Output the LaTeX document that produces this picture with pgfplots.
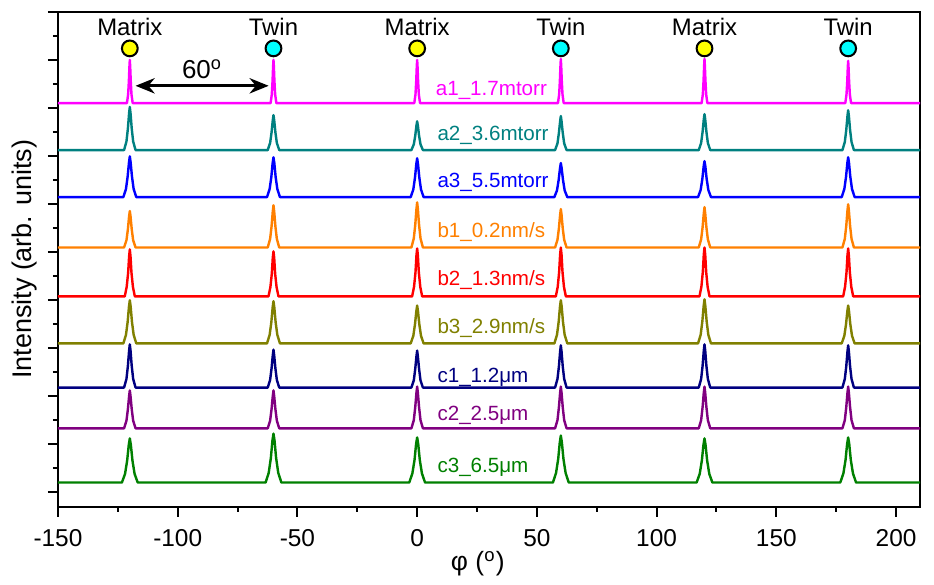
\documentclass[border=0pt]{standalone}
\usepackage{fontspec}
\setmainfont{Liberation Sans}
\usepackage{pgfplots}
\pgfplotsset{compat=1.18}
\usetikzlibrary{arrows.meta}

\definecolor{cA1}{RGB}{255,0,255}
\definecolor{cA2}{RGB}{0,128,128}
\definecolor{cA3}{RGB}{0,0,255}
\definecolor{cB1}{RGB}{255,128,0}
\definecolor{cB2}{RGB}{255,0,0}
\definecolor{cB3}{RGB}{128,128,0}
\definecolor{cC1}{RGB}{0,0,128}
\definecolor{cC2}{RGB}{128,0,128}
\definecolor{cC3}{RGB}{0,128,0}
\definecolor{matrixc}{RGB}{255,255,0}
\definecolor{twinc}{RGB}{0,255,255}

\pgfplotsset{curve/.style={line width=0.95pt, line join=round, mark=none}}

\begin{document}
\begin{tikzpicture}
\begin{axis}[
    scale only axis,
    width=339pt, height=194.5pt,
    xmin=-150, xmax=210, ymin=-0.31, ymax=10,
    xtick={-150,-100,...,200}, minor x tick num=1,
    ytick={0,1,...,10}, minor y tick num=1, yticklabels={},
    tick pos=left, tick align=outside,
    major tick length=4pt, minor tick length=2pt,
    every tick/.style={black, line width=0.8pt},
    axis line style={line width=0.8pt},
    ticklabel style={font=\fontsize{9.6}{11}\selectfont},
    xticklabel style={yshift=-1.5pt},
    /pgf/number format/assume math mode=true,
    xlabel={φ (\textsuperscript{o})},
    ylabel={Intensity (arb. units)},
    xlabel style={font=\fontsize{10.4}{12}\selectfont, at={(axis description cs:0.487,-0.115)}, anchor=center},
    ylabel style={font=\fontsize{10.6}{12}\selectfont, at={(axis description cs:-0.0385,0.5)}, anchor=center, rotate=0},
    clip=false,
]
% a1_1.7mtorr
\addplot[curve, cA1] coordinates {
(-150,8.10) (-121.2,8.10) (-120.7,8.28) (-120.4,8.55) (-120.15,8.87) (-120,9.00) (-119.85,8.87) (-119.6,8.55) (-119.3,8.28) (-118.8,8.10)
(-61.2,8.10) (-60.7,8.28) (-60.4,8.55) (-60.15,8.87) (-60,9.00) (-59.85,8.87) (-59.6,8.55) (-59.3,8.28) (-58.8,8.10)
(-1.2,8.10) (-0.7,8.28) (-0.4,8.55) (-0.15,8.87) (0,9.00) (0.15,8.87) (0.4,8.55) (0.7,8.28) (1.2,8.10)
(58.8,8.10) (59.3,8.28) (59.6,8.56) (59.85,8.88) (60,9.02) (60.15,8.88) (60.4,8.56) (60.7,8.28) (61.2,8.10)
(118.8,8.10) (119.3,8.28) (119.6,8.56) (119.85,8.88) (120,9.02) (120.15,8.88) (120.4,8.56) (120.7,8.28) (121.2,8.10)
(178.8,8.10) (179.3,8.28) (179.6,8.54) (179.85,8.85) (180,8.98) (180.15,8.85) (180.4,8.54) (180.7,8.28) (181.2,8.10) (210,8.10)
};
% a2_3.6mtorr
\addplot[curve, cA2] coordinates {
(-150,7.12) (-122.4,7.12) (-121.4,7.30) (-120.8,7.57) (-120.3,7.89) (-120,8.02) (-119.7,7.89) (-119.2,7.57) (-118.6,7.30) (-117.6,7.12)
(-62.4,7.12) (-61.4,7.27) (-60.8,7.49) (-60.3,7.74) (-60,7.85) (-59.7,7.74) (-59.2,7.49) (-58.6,7.27) (-57.6,7.12)
(-2.4,7.12) (-1.4,7.24) (-0.8,7.42) (-0.3,7.63) (0,7.72) (0.3,7.63) (0.8,7.42) (1.4,7.24) (2.4,7.12)
(57.6,7.12) (58.6,7.26) (59.2,7.48) (59.7,7.72) (60,7.83) (60.3,7.72) (60.8,7.48) (61.4,7.26) (62.4,7.12)
(117.6,7.12) (118.6,7.27) (119.2,7.50) (119.7,7.76) (120,7.87) (120.3,7.76) (120.8,7.50) (121.4,7.27) (122.4,7.12)
(177.6,7.12) (178.6,7.29) (179.2,7.54) (179.7,7.83) (180,7.95) (180.3,7.83) (180.8,7.54) (181.4,7.29) (182.4,7.12) (210,7.12)
};
% a3_5.5mtorr
\addplot[curve, cA3] coordinates {
(-150,6.14) (-122.7,6.14) (-121.6,6.31) (-120.9,6.57) (-120.35,6.86) (-120,6.99) (-119.65,6.86) (-119.1,6.57) (-118.4,6.31) (-117.3,6.14)
(-62.7,6.14) (-61.6,6.31) (-60.9,6.56) (-60.35,6.85) (-60,6.97) (-59.65,6.85) (-59.1,6.56) (-58.4,6.31) (-57.3,6.14)
(-2.7,6.14) (-1.6,6.30) (-0.9,6.55) (-0.35,6.83) (0,6.95) (0.35,6.83) (0.9,6.55) (1.6,6.30) (2.7,6.14)
(57.3,6.14) (58.4,6.28) (59.1,6.50) (59.65,6.74) (60,6.85) (60.35,6.74) (60.9,6.50) (61.6,6.28) (62.7,6.14)
(117.3,6.14) (118.4,6.29) (119.1,6.52) (119.65,6.78) (120,6.89) (120.35,6.78) (120.9,6.52) (121.6,6.29) (122.7,6.14)
(177.3,6.14) (178.4,6.31) (179.1,6.56) (179.65,6.85) (180,6.97) (180.35,6.85) (180.9,6.56) (181.6,6.31) (182.7,6.14) (210,6.14)
};
% b1_0.2nm/s
\addplot[curve, cB1] coordinates {
(-150,5.09) (-122.4,5.09) (-121.4,5.24) (-120.8,5.47) (-120.3,5.74) (-120,5.85) (-119.7,5.74) (-119.2,5.47) (-118.6,5.24) (-117.6,5.09)
(-62.4,5.09) (-61.4,5.27) (-60.8,5.53) (-60.3,5.84) (-60,5.97) (-59.7,5.84) (-59.2,5.53) (-58.6,5.27) (-57.6,5.09)
(-2.4,5.09) (-1.4,5.28) (-0.8,5.56) (-0.3,5.89) (0,6.03) (0.3,5.89) (0.8,5.56) (1.4,5.28) (2.4,5.09)
(57.6,5.09) (58.6,5.25) (59.2,5.49) (59.7,5.77) (60,5.89) (60.3,5.77) (60.8,5.49) (61.4,5.25) (62.4,5.09)
(117.6,5.09) (118.6,5.26) (119.2,5.51) (119.7,5.80) (120,5.93) (120.3,5.80) (120.8,5.51) (121.4,5.26) (122.4,5.09)
(177.6,5.09) (178.6,5.27) (179.2,5.54) (179.7,5.86) (180,5.99) (180.3,5.86) (180.8,5.54) (181.4,5.27) (182.4,5.09) (210,5.09)
};
% b2_1.3nm/s
\addplot[curve, cB2] coordinates {
(-150,4.07) (-122.1,4.07) (-121.3,4.27) (-120.7,4.56) (-120.3,4.90) (-120,5.05) (-119.7,4.90) (-119.3,4.56) (-118.7,4.27) (-117.9,4.07)
(-62.1,4.07) (-61.3,4.26) (-60.7,4.54) (-60.3,4.87) (-60,5.01) (-59.7,4.87) (-59.3,4.54) (-58.7,4.26) (-57.9,4.07)
(-2.1,4.07) (-1.3,4.27) (-0.7,4.57) (-0.3,4.92) (0,5.07) (0.3,4.92) (0.7,4.57) (1.3,4.27) (2.1,4.07)
(57.9,4.07) (58.7,4.27) (59.3,4.58) (59.7,4.94) (60,5.09) (60.3,4.94) (60.7,4.58) (61.3,4.27) (62.1,4.07)
(117.9,4.07) (118.7,4.27) (119.3,4.58) (119.7,4.94) (120,5.09) (120.3,4.94) (120.7,4.58) (121.3,4.27) (122.1,4.07)
(177.9,4.07) (178.7,4.27) (179.3,4.57) (179.7,4.92) (180,5.07) (180.3,4.92) (180.7,4.57) (181.3,4.27) (182.1,4.07) (210,4.07)
};
% b3_2.9nm/s
\addplot[curve, cB3] coordinates {
(-150,3.09) (-122.7,3.09) (-121.6,3.27) (-120.9,3.54) (-120.35,3.86) (-120,3.99) (-119.65,3.86) (-119.1,3.54) (-118.4,3.27) (-117.3,3.09)
(-62.7,3.09) (-61.6,3.27) (-60.9,3.53) (-60.35,3.84) (-60,3.97) (-59.65,3.84) (-59.1,3.53) (-58.4,3.27) (-57.3,3.09)
(-2.7,3.09) (-1.6,3.25) (-0.9,3.49) (-0.35,3.76) (0,3.88) (0.35,3.76) (0.9,3.49) (1.6,3.25) (2.7,3.09)
(57.3,3.09) (58.4,3.27) (59.1,3.54) (59.65,3.86) (60,3.99) (60.35,3.86) (60.9,3.54) (61.6,3.27) (62.7,3.09)
(117.3,3.09) (118.4,3.27) (119.1,3.55) (119.65,3.87) (120,4.01) (120.35,3.87) (120.9,3.55) (121.6,3.27) (122.7,3.09)
(177.3,3.09) (178.4,3.25) (179.1,3.49) (179.65,3.76) (180,3.88) (180.35,3.76) (180.9,3.49) (181.6,3.25) (182.7,3.09) (210,3.09)
};
% c1_1.2um
\addplot[curve, cC1] coordinates {
(-150,2.17) (-122.4,2.17) (-121.4,2.35) (-120.8,2.62) (-120.3,2.94) (-120,3.07) (-119.7,2.94) (-119.2,2.62) (-118.6,2.35) (-117.6,2.17)
(-62.4,2.17) (-61.4,2.33) (-60.8,2.57) (-60.3,2.84) (-60,2.96) (-59.7,2.84) (-59.2,2.57) (-58.6,2.33) (-57.6,2.17)
(-2.4,2.17) (-1.4,2.32) (-0.8,2.56) (-0.3,2.82) (0,2.94) (0.3,2.82) (0.8,2.56) (1.4,2.32) (2.4,2.17)
(57.6,2.17) (58.6,2.35) (59.2,2.61) (59.7,2.92) (60,3.05) (60.3,2.92) (60.8,2.61) (61.4,2.35) (62.4,2.17)
(117.6,2.17) (118.6,2.35) (119.2,2.62) (119.7,2.94) (120,3.07) (120.3,2.94) (120.8,2.62) (121.4,2.35) (122.4,2.17)
(177.6,2.17) (178.6,2.35) (179.2,2.61) (179.7,2.92) (180,3.05) (180.3,2.92) (180.8,2.61) (181.4,2.35) (182.4,2.17) (210,2.17)
};
% c2_2.5um
\addplot[curve, cC2] coordinates {
(-150,1.32) (-122.4,1.32) (-121.4,1.48) (-120.8,1.72) (-120.3,1.99) (-120,2.11) (-119.7,1.99) (-119.2,1.72) (-118.6,1.48) (-117.6,1.32)
(-62.4,1.32) (-61.4,1.48) (-60.8,1.72) (-60.3,1.99) (-60,2.11) (-59.7,1.99) (-59.2,1.72) (-58.6,1.48) (-57.6,1.32)
(-2.4,1.32) (-1.4,1.49) (-0.8,1.76) (-0.3,2.06) (0,2.19) (0.3,2.06) (0.8,1.76) (1.4,1.49) (2.4,1.32)
(57.6,1.32) (58.6,1.49) (59.2,1.76) (59.7,2.06) (60,2.19) (60.3,2.06) (60.8,1.76) (61.4,1.49) (62.4,1.32)
(117.6,1.32) (118.6,1.49) (119.2,1.76) (119.7,2.06) (120,2.19) (120.3,2.06) (120.8,1.76) (121.4,1.49) (122.4,1.32)
(177.6,1.32) (178.6,1.49) (179.2,1.76) (179.7,2.06) (180,2.19) (180.3,2.06) (180.8,1.76) (181.4,1.49) (182.4,1.32) (210,1.32)
};
% c3_6.5um
\addplot[curve, cC3] coordinates {
(-150,0.19) (-123.3,0.19) (-122.0,0.37) (-121.1,0.65) (-120.45,0.97) (-120,1.11) (-119.55,0.97) (-118.9,0.65) (-118.0,0.37) (-116.7,0.19)
(-63.3,0.19) (-62.0,0.39) (-61.1,0.70) (-60.45,1.06) (-60,1.21) (-59.55,1.06) (-58.9,0.70) (-58.0,0.39) (-56.7,0.19)
(-3.3,0.19) (-2.0,0.38) (-1.1,0.66) (-0.45,0.99) (0,1.13) (0.45,0.99) (1.1,0.66) (2.0,0.38) (3.3,0.19)
(56.7,0.19) (58.0,0.39) (58.9,0.68) (59.55,1.02) (60,1.17) (60.45,1.02) (61.1,0.68) (62.0,0.39) (63.3,0.19)
(116.7,0.19) (118.0,0.37) (118.9,0.65) (119.55,0.97) (120,1.11) (120.45,0.97) (121.1,0.65) (122.0,0.37) (123.3,0.19)
(176.7,0.19) (178.0,0.38) (178.9,0.66) (179.55,0.99) (180,1.13) (180.45,0.99) (181.1,0.66) (182.0,0.38) (183.3,0.19) (210,0.19)
};

% peak markers
\addplot[only marks, mark=*, mark size=3.1pt, mark options={fill=matrixc, draw=black, line width=0.8pt}]
  coordinates {(-120,9.24) (0,9.24) (120,9.24)};
\addplot[only marks, mark=*, mark size=3.1pt, mark options={fill=twinc, draw=black, line width=0.8pt}]
  coordinates {(-60,9.24) (60,9.24) (180,9.24)};

\begin{scope}[font=\fontsize{9.4}{11}\selectfont]
\node at (axis cs:-120,9.68) {Matrix};
\node at (axis cs:-60,9.68) {Twin};
\node at (axis cs:0,9.68) {Matrix};
\node at (axis cs:60,9.68) {Twin};
\node at (axis cs:120,9.68) {Matrix};
\node at (axis cs:180,9.68) {Twin};
\node[font=\fontsize{10.2}{12}\selectfont] at (axis cs:-89.8,8.80) {60\textsuperscript{o}};
\end{scope}
\draw[{Stealth[length=7.5pt,width=6pt]}-{Stealth[length=7.5pt,width=6pt]}, line width=1.3pt]
  (axis cs:-117.6,8.46) -- (axis cs:-62.0,8.46);

\begin{scope}[font=\fontsize{8.1}{10}\selectfont, anchor=west, inner sep=0pt]
\node[text=cA1] at (axis cs:7.6,8.37) {a1\_1.7mtorr};
\node[text=cA2] at (axis cs:8.3,7.43) {a2\_3.6mtorr};
\node[text=cA3] at (axis cs:8.3,6.45) {a3\_5.5mtorr};
\node[text=cB1] at (axis cs:8.3,5.41) {b1\_0.2nm/s};
\node[text=cB2] at (axis cs:8.3,4.41) {b2\_1.3nm/s};
\node[text=cB3] at (axis cs:8.3,3.42) {b3\_2.9nm/s};
\node[text=cC1] at (axis cs:8.3,2.38) {c1\_1.2μm};
\node[text=cC2] at (axis cs:8.3,1.59) {c2\_2.5μm};
\node[text=cC3] at (axis cs:8.3,0.50) {c3\_6.5μm};
\end{scope}
\end{axis}
\path ([shift={(-22.8pt,-28pt)}]current axis.south west) rectangle ([shift={(5.5pt,4.7pt)}]current axis.north east);
\end{tikzpicture}
\end{document}
